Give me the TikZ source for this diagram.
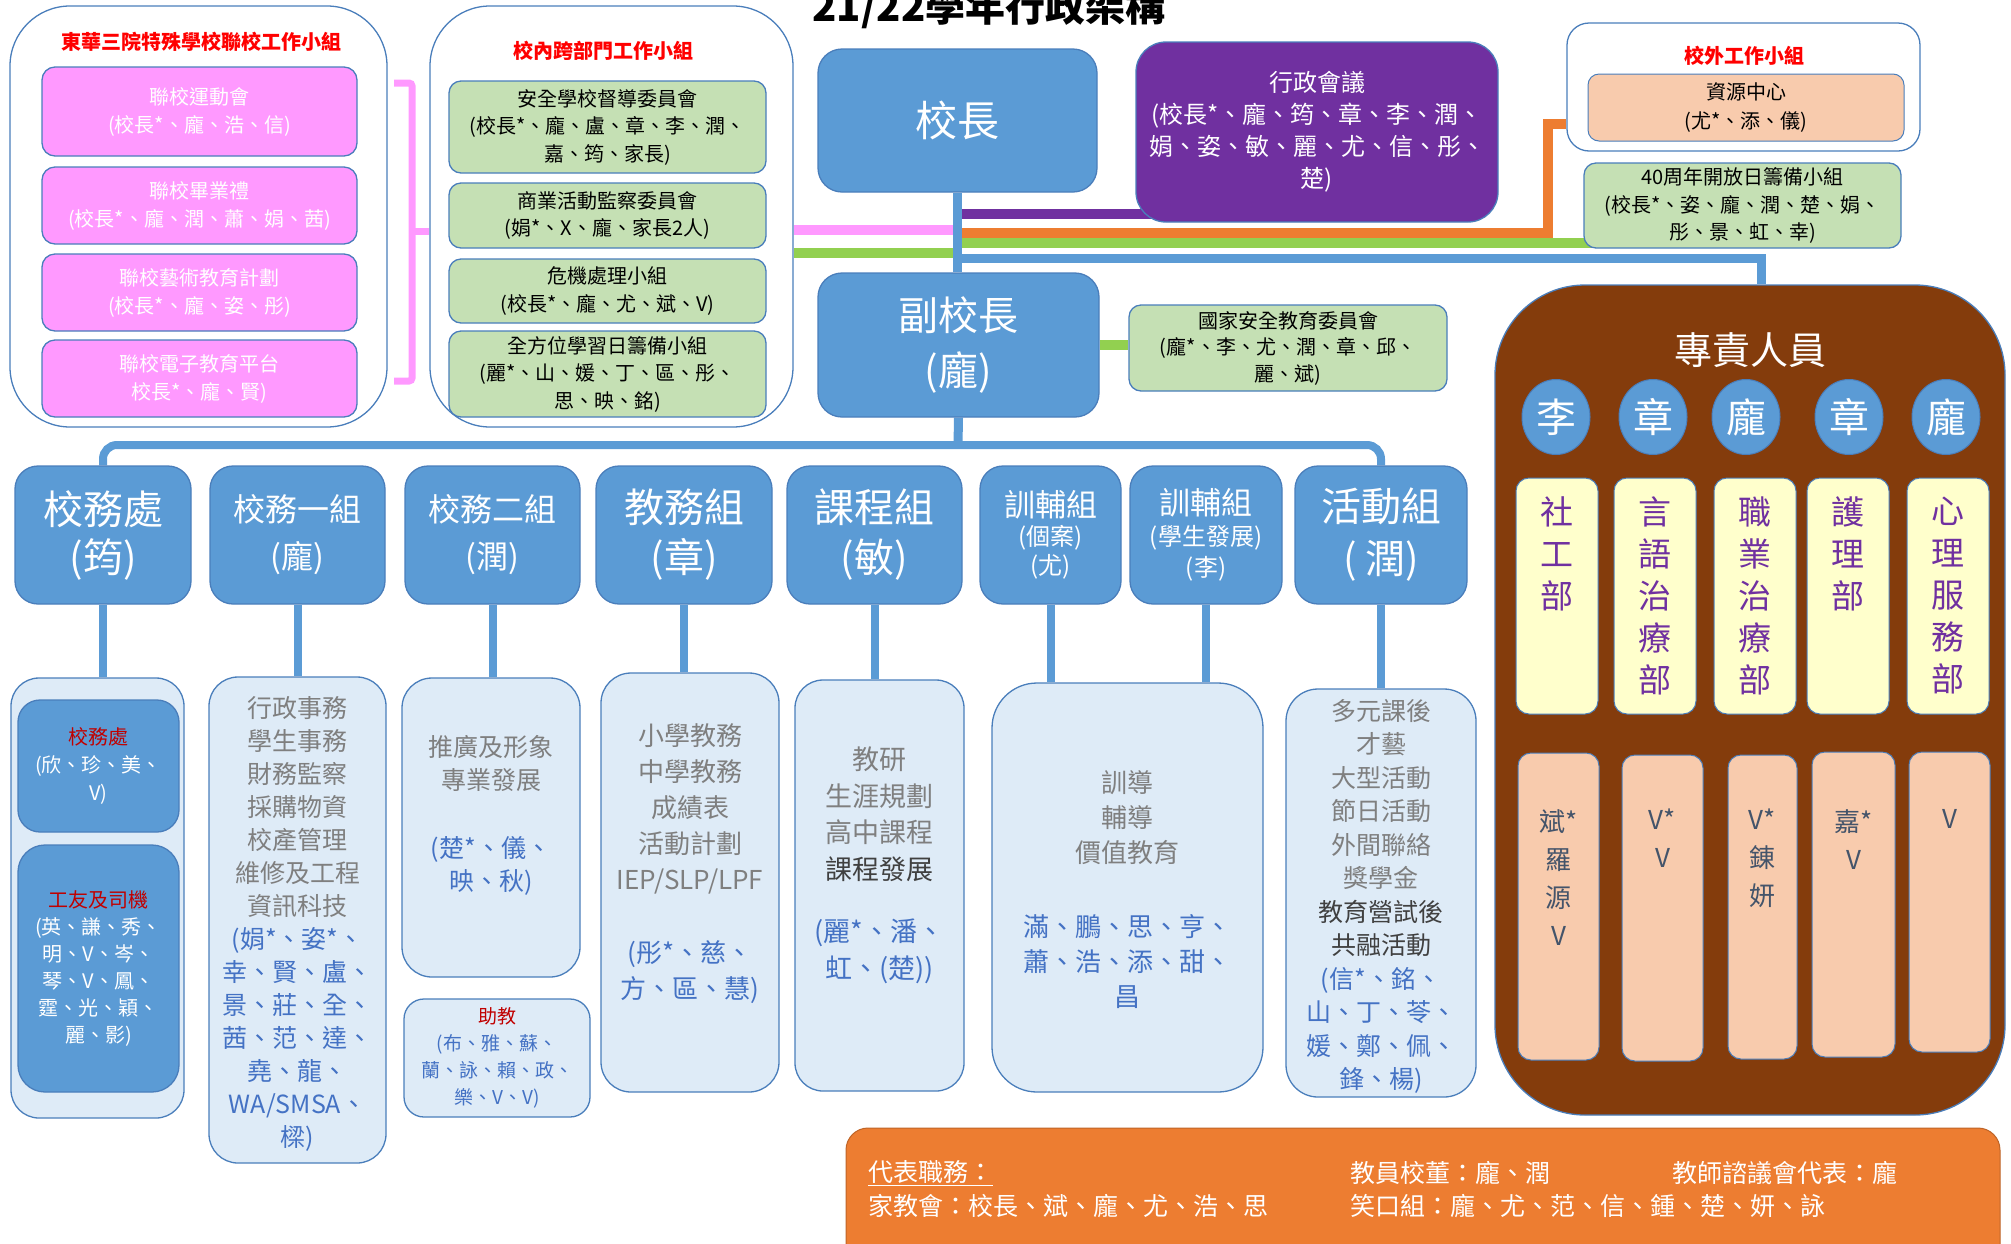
\documentclass[tikz,border=0pt]{standalone}
\usepackage{fontspec}
\setmainfont{Noto Sans CJK TC}
\usepackage{tikz}
\usetikzlibrary{positioning}
\usetikzlibrary{shapes.geometric}
\usetikzlibrary{backgrounds}
\definecolor{deptblue}{HTML}{5B9BD5}
\definecolor{lineblue}{HTML}{4A7EBB}
\definecolor{subfill}{HTML}{DEEBF7}
\definecolor{pinkfill}{HTML}{FF99FF}
\definecolor{greenfill}{HTML}{C5E0B4}
\definecolor{greenline}{HTML}{92D050}
\definecolor{purplefill}{HTML}{7030A0}
\definecolor{orangefill}{HTML}{ED7D31}
\definecolor{peachfill}{HTML}{F8CBAD}
\definecolor{brownfill}{HTML}{843C0C}
\definecolor{yellowfill}{HTML}{FFFFCC}
\definecolor{txtgray}{HTML}{7F7F7F}
\definecolor{txtdark}{HTML}{404040}
\definecolor{txtblue}{HTML}{4472C4}
\definecolor{txtred}{HTML}{FF0000}
\definecolor{darkred}{HTML}{C00000}
\definecolor{slate}{HTML}{44546A}
\tikzset{
    grpbox/.style={
           rectangle,
           draw=lineblue, line width=1.3pt,
           fill=white,
           inner sep=0pt,
           },
    redtitle/.style={
           text=txtred,
           font=\fontsize{20}{24}\selectfont\bfseries,
           inner sep=0pt,
           },
    pinkbox/.style={
           rectangle,
           rounded corners=13pt,
           draw=lineblue, line width=1.3pt,
           fill=pinkfill,
           minimum width=315, minimum height=77,
           inner sep=0pt,
           text=white, align=center,
           font=\fontsize{20}{28}\selectfont,
           },
    greenbox/.style={
           rectangle,
           rounded corners=12pt,
           draw=lineblue, line width=1.3pt,
           fill=greenfill,
           minimum width=317,
           inner sep=0pt,
           align=center,
           font=\fontsize{20}{27.5}\selectfont,
           },
    deptbox/.style={
           rectangle,
           rounded corners=23pt,
           draw=lineblue, line width=1.3pt,
           fill=deptblue,
           minimum height=138,
           inner sep=0pt,
           text=white, align=center,
           },
    subbox/.style={
           rectangle,
           draw=lineblue, line width=1.3pt,
           fill=subfill,
           inner sep=0pt,
           },
    subtext/.style={
           align=center,
           inner sep=0pt,
           text=txtgray,
           },
    yellowbox/.style={
           rectangle,
           rounded corners=13pt,
           draw=lineblue, line width=1pt,
           fill=yellowfill,
           minimum width=82, minimum height=236,
           },
    yelltext/.style={
           anchor=north, align=center, inner sep=0pt,
           text=purplefill,
           font=\fontsize{33}{42}\selectfont,
           },
    peachbox/.style={
           rectangle,
           rounded corners=13pt,
           draw=lineblue, line width=1pt,
           fill=peachfill,
           },
    peachtext/.style={
           anchor=north, align=center, inner sep=0pt,
           text=slate,
           font=\fontsize{26}{38}\selectfont,
           },
    staffdot/.style={
           ellipse,
           draw=lineblue, line width=1pt,
           fill=deptblue,
           minimum width=68, minimum height=75,
           inner sep=0pt,
           text=white,
           font=\fontsize{40}{40}\selectfont,
           },
    foottext/.style={
           anchor=west, inner sep=0pt,
           text=white,
           font=\fontsize{25}{30}\selectfont,
           },
    colline/.style={line width=10pt},
    deptline/.style={draw=deptblue, line width=8pt},
}

\begin{document}
\begin{tikzpicture}[x=1pt,y=-1pt]
	\useasboundingbox (0,0) rectangle (2011,1243);

	\node[anchor=base, inner sep=0pt, font=\fontsize{40}{44}\selectfont\bfseries] (ttl) at (989,21) {21/22學年行政架構};

	%joint schools
	\node[grpbox, rounded corners=60pt, minimum width=377, minimum height=421] (g1) at (198.5,216.5) {};
	\node[redtitle] (t1) at (201,42) {東華三院特殊學校聯校工作小組};
	\node[pinkbox, minimum height=89] (p1) at (199.5,111.5) {聯校運動會\\(校長*、龐、浩、信)};
	\node[pinkbox] (p2) at (199.5,205.5) {聯校畢業禮\\(校長*、龐、潤、蕭、娟、茜)};
	\node[pinkbox] (p3) at (199.5,292.5) {聯校藝術教育計劃\\(校長*、龐、姿、彤)};
	\node[pinkbox] (p4) at (199.5,378.5) {聯校電子教育平台\\校長*、龐、賢)};

	%cross-department
	\node[grpbox, rounded corners=60pt, minimum width=363, minimum height=421] (g2) at (611.5,216.5) {};
	\node[redtitle] (t2) at (603,51) {校內跨部門工作小組};
	\node[greenbox, minimum height=92] (s1) at (607.5,127) {安全學校督導委員會\\(校長*、龐、盧、章、李、潤、\\嘉、筠、家長)};
	\node[greenbox, minimum height=65] (s2) at (607.5,215.5) {商業活動監察委員會\\(娟*、X、龐、家長2人)};
	\node[greenbox, minimum height=64] (s3) at (607.5,291) {危機處理小組\\(校長*、龐、尤、斌、V)};
	\node[greenbox, minimum height=86] (s4) at (607.5,374) {全方位學習日籌備小組\\(麗*、山、媛、丁、區、彤、\\思、映、銘)};

	%principal
	\node[deptbox, minimum width=279, minimum height=143, rounded corners=24pt, font=\fontsize{42}{48}\selectfont] (pr) at (957.5,120.5) {校長};
	\node[deptbox, fill=purplefill, minimum width=362, minimum height=180, rounded corners=30pt, font=\fontsize{24}{32}\selectfont] (meet) at (1317,132) {行政會議\\(校長*、龐、筠、章、李、潤、\\娟、姿、敏、麗、尤、信、彤、\\楚)};
	\node[deptbox, minimum width=281, minimum height=144, rounded corners=24pt, font=\fontsize{40}{55}\selectfont] (vp) at (958.5,345) {副校長\\(龐)};
	\node[greenbox, minimum width=318, minimum height=86, font=\fontsize{20}{26.5}\selectfont] (nse) at (1288,348) {國家安全教育委員會\\(龐*、李、尤、潤、章、邱、\\麗、斌)};

	%outside
	\node[grpbox, rounded corners=22pt, minimum width=353, minimum height=128] (g3) at (1743.5,87) {};
	\node[redtitle] (t3) at (1744,56) {校外工作小組};
	\node[peachbox, minimum width=316, minimum height=67, rounded corners=11pt, align=center, inner sep=0pt, font=\fontsize{20}{29}\selectfont] (rc) at (1746,107.5) {資源中心\\(尤*、添、儀)};
	\node[greenbox, minimum height=85] (od) at (1742.5,205.5) {40周年開放日籌備小組\\(校長*、姿、龐、潤、楚、娟、\\彤、景、虹、幸)};

	%professional staff
	\node[rectangle, rounded corners=90pt, draw=lineblue, line width=1.3pt, fill=brownfill, minimum width=510, minimum height=830] (pc) at (1750,700) {};
	\node[text=white, inner sep=0pt, font=\fontsize{38}{40}\selectfont] (pct) at (1750,350) {專責人員};
	\node[staffdot] (c1) at (1556,417) {李};
	\node[staffdot] (c2) at (1653,417) {章};
	\node[staffdot] (c3) at (1746,417) {龐};
	\node[staffdot] (c4) at (1849,417) {章};
	\node[staffdot] (c5) at (1946,417) {龐};
	\node[yellowbox] (y1) at (1557,596) {};
	\node[yellowbox] (y2) at (1655,596) {};
	\node[yellowbox] (y3) at (1755,596) {};
	\node[yellowbox] (y4) at (1848,596) {};
	\node[yellowbox] (y5) at (1948,596) {};
	\node[yelltext] (yt1) at (1557,496.5) {社\\工\\部};
	\node[yelltext] (yt2) at (1655,496.5) {言\\語\\治\\療\\部};
	\node[yelltext] (yt3) at (1755,496.5) {職\\業\\治\\療\\部};
	\node[yelltext] (yt4) at (1848,496.5) {護\\理\\部};
	\node[yelltext] (yt5) at (1948,496.5) {心\\理\\服\\務\\部};
	\node[peachbox, minimum width=81, minimum height=307] (q1) at (1558.5,906.5) {};
	\node[peachbox, minimum width=81, minimum height=306] (q2) at (1662.5,908) {};
	\node[peachbox, minimum width=69, minimum height=304] (q3) at (1762.5,907) {};
	\node[peachbox, minimum width=83, minimum height=305] (q4) at (1853.5,904.5) {};
	\node[peachbox, minimum width=81, minimum height=300] (q5) at (1949.5,902) {};
	\node[peachtext] (qt1) at (1558.5,809) {斌*\\羅\\源\\V};
	\node[peachtext] (qt2) at (1662.5,809) {V*\\V};
	\node[peachtext] (qt3) at (1762.5,809) {V*\\錬\\妍};
	\node[peachtext] (qt4) at (1853.5,809) {嘉*\\V};
	\node[peachtext] (qt5) at (1949.5,809) {V};

	%departments
	\node[deptbox, minimum width=176, font=\fontsize{40}{48}\selectfont] (d1) at (103,535) {校務處\\(筠)};
	\node[deptbox, minimum width=175, font=\fontsize{32}{47}\selectfont] (d2) at (297.5,535) {校務一組\\(龐)};
	\node[deptbox, minimum width=175, font=\fontsize{32}{47}\selectfont] (d3) at (492.5,535) {校務二組\\(潤)};
	\node[deptbox, minimum width=176, font=\fontsize{40}{50}\selectfont] (d4) at (684,535) {教務組\\(章)};
	\node[deptbox, minimum width=175, font=\fontsize{40}{50}\selectfont] (d5) at (874.5,535) {課程組\\(敏)};
	\node[deptbox, minimum width=141, font=\fontsize{24}{29}\selectfont] (d6) at (1050.5,535) {{\fontsize{31}{31}\selectfont 訓輔組}\\(個案)\\(尤)};
	\node[deptbox, minimum width=152, font=\fontsize{24}{31}\selectfont] (d7) at (1206,535) {{\fontsize{31}{31}\selectfont 訓輔組}\\(學生發展)\\(李)};
	\node[deptbox, minimum width=172, font=\fontsize{40}{52}\selectfont] (d8) at (1381,535) {活動組\\( 潤)};

	%sections
	\node[subbox, rounded corners=28pt, minimum width=173, minimum height=440] (b1) at (97.5,898) {};
	\node[deptbox, rounded corners=22pt, minimum width=161, minimum height=132, font=\fontsize{20}{28}\selectfont] (ib1) at (98.5,766) {\textcolor{darkred}{校務處}\\(欣、珍、美、\\V)};
	\node[deptbox, rounded corners=27pt, minimum width=161, minimum height=247, font=\fontsize{20}{27}\selectfont] (ib2) at (98.5,968.5) {\textcolor{darkred}{工友及司機}\\(英、謙、秀、\\明、V、岑、\\琴、V、鳳、\\霆、光、穎、\\麗、影)};

	\node[subbox, rounded corners=29pt, minimum width=177, minimum height=486] (b2) at (297.5,920) {};
	\node[subtext, font=\fontsize{25}{33}\selectfont] (bt2) at (297.5,924) {行政事務\\學生事務\\財務監察\\採購物資\\校產管理\\維修及工程\\資訊科技\\
		\textcolor{txtblue}{(娟*、姿*、}\\\textcolor{txtblue}{幸、賢、盧、}\\\textcolor{txtblue}{景、莊、全、}\\\textcolor{txtblue}{茜、范、達、}\\\textcolor{txtblue}{堯、龍、}\\\textcolor{txtblue}{WA/SMSA、}\\\textcolor{txtblue}{樑)}};

	\node[subbox, rounded corners=30pt, minimum width=178, minimum height=299] (b3) at (491,827.5) {};
	\node[subtext, font=\fontsize{25}{33}\selectfont] (bt3) at (491,815) {推廣及形象\\專業發展\\[35pt]\textcolor{txtblue}{(楚*、儀、}\\\textcolor{txtblue}{映、秋)}};
	\node[subbox, rounded corners=20pt, minimum width=186, minimum height=118, align=center, text=txtblue, font=\fontsize{19}{27}\selectfont] (tb) at (497,1058) {\textcolor{darkred}{助教}\\(布、雅、蘇、\\蘭、詠、賴、政、\\樂、V、V)};

	\node[subbox, rounded corners=30pt, minimum width=178, minimum height=419] (b4) at (690,882.5) {};
	\node[subtext, font=\fontsize{26}{36}\selectfont] (bt4) at (690,864) {小學教務\\中學教務\\成績表\\活動計劃\\IEP/SLP/LPF\\[37pt]\textcolor{txtblue}{(彤*、慈、}\\\textcolor{txtblue}{方、區、慧)}};

	\node[subbox, rounded corners=28pt, minimum width=169, minimum height=411] (b5) at (879.5,885.5) {};
	\node[subtext, font=\fontsize{27}{36.5}\selectfont] (bt5) at (879.5,865.5) {教研\\生涯規劃\\高中課程\\\textcolor{txtdark}{課程發展}\\[26pt]\textcolor{txtblue}{(麗*、潘、}\\\textcolor{txtblue}{虹、(楚))}};

	\node[subbox, rounded corners=45pt, minimum width=271, minimum height=409] (b6) at (1127.5,887.5) {};
	\node[subtext, font=\fontsize{26}{35}\selectfont] (bt6) at (1127.5,889.5) {訓導\\輔導\\價值教育\\[39pt]\textcolor{txtblue}{滿、鵬、思、亨、}\\\textcolor{txtblue}{蕭、浩、添、甜、}\\\textcolor{txtblue}{昌}};

	\node[subbox, rounded corners=32pt, minimum width=190, minimum height=408] (b7) at (1381,893) {};
	\node[subtext, font=\fontsize{25}{33.5}\selectfont] (bt7) at (1381,896.5) {多元課後\\才藝\\大型活動\\節日活動\\外間聯絡\\獎學金\\\textcolor{txtdark}{教育營試後}\\\textcolor{txtdark}{共融活動}\\
		\textcolor{txtblue}{(信*、銘、}\\\textcolor{txtblue}{山、丁、苓、}\\\textcolor{txtblue}{媛、鄭、佩、}\\\textcolor{txtblue}{鋒、楊)}};

	%duties
	\node[rectangle, rounded corners=22pt, draw=orangefill!80!black, line width=1pt, fill=orangefill, minimum width=1154, minimum height=172] (ft) at (1423,1214) {};
	\node[foottext] (f1) at (868,1173) {\underline{代表職務：}};
	\node[foottext] (f2) at (868,1206) {家教會：校長、斌、龐、尤、浩、思};
	\node[foottext] (f3) at (1350,1173) {教員校董：龐、潤};
	\node[foottext] (f4) at (1350,1206) {笑口組：龐、尤、范、信、鍾、楚、妍、詠};
	\node[foottext] (f5) at (1672,1173) {教師諮議會代表：龐};

	%EDGES
	\coordinate (bus) at (958,445);
	\coordinate (jp) at (958,214);
	\coordinate (jk) at (958,230);
	\coordinate (jo) at (958,233);
	\coordinate (oc) at (1548,124);
	\coordinate (jgr) at (958,243);
	\coordinate (jgl) at (958,253);
	\coordinate (jb) at (958,258);
	\coordinate (bturn) at (1761,258);
	\coordinate (bt) at (394,83);
	\coordinate (bb) at (394,381);
	\coordinate (bm) at (412,231);

	\begin{scope}[on background layer]
	\draw[colline, draw=purplefill] (jp) -- (jp -| meet.center);
	\draw[colline, draw=pinkfill] (jk -| g2.east) -- (jk);
	\draw[colline, draw=orangefill] (jo) -| (oc) -- (oc -| g3.west);
	\draw[colline, draw=greenline] (jgr) -- (jgr -| od.center);
	\draw[colline, draw=greenline] (jgl -| g2.east) -- (jgl);
	\draw[colline, line width=9pt, draw=deptblue] (jb) -- (bturn) -- (bturn |- pc.north);
	\draw[line width=7pt, draw=pinkfill, rounded corners=3pt] (bt) -- ++(18,0) |- (bb);
	\draw[line width=7pt, draw=pinkfill] (bm) -- (bm -| g2.west);
	\draw[colline, draw=greenline] (vp.east) -- (vp.east -| nse.west);

	\draw[deptline, line width=9pt] (pr.south) -- (pr.south |- vp.north);
	\draw[deptline, line width=9pt] (vp.south) -- (bus);
	\draw[deptline, rounded corners=14pt] (d1.north) |- (bus) -| (d8.north);

	\draw[deptline] (d1.south) -- (d1.south |- b1.north);
	\draw[deptline] (d2.south) -- (d2.south |- b2.north);
	\draw[deptline] (d3.south) -- (d3.south |- b3.north);
	\draw[deptline] (d4.south) -- (d4.south |- b4.north);
	\draw[deptline] (d5.south) -- (d5.south |- b5.north);
	\draw[deptline] (d6.south) -- (d6.south |- b6.north);
	\draw[deptline] (d7.south) -- (d7.south |- b6.north);
	\draw[deptline] (d8.south) -- (d8.south |- b7.north);
	\end{scope}

\end{tikzpicture}
\end{document}
